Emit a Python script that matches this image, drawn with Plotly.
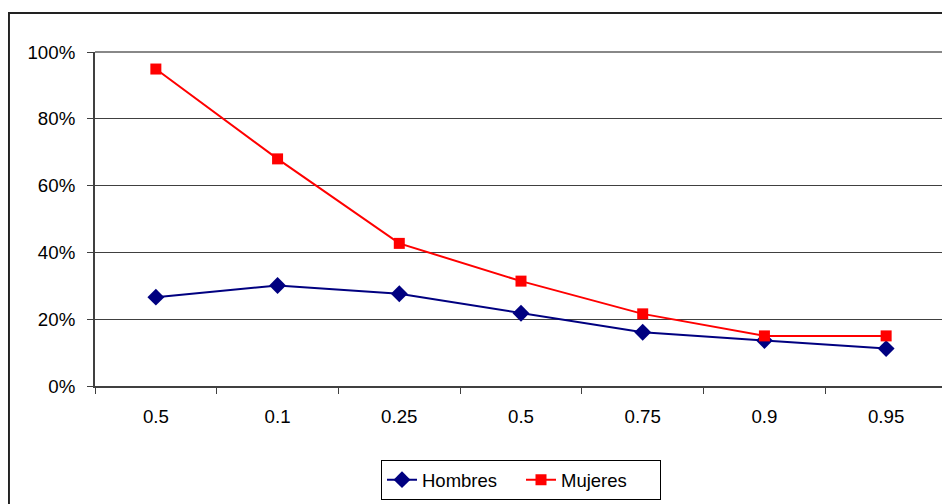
import plotly.graph_objects as go

categories = ["0.5", "0.1", "0.25", "0.5", "0.75", "0.9", "0.95"]
hombres = [0.266, 0.301, 0.276, 0.218, 0.161, 0.136, 0.112]
mujeres = [0.949, 0.680, 0.427, 0.314, 0.216, 0.150, 0.150]
y_ticks = [0, 0.2, 0.4, 0.6, 0.8, 1.0]
y_labels = ["0%", "20%", "40%", "60%", "80%", "100%"]

idx = list(range(len(categories)))
FONT = "Liberation Sans, Arial, sans-serif"

fig = go.Figure()
fig.add_trace(go.Scatter(
    x=idx, y=hombres, name="Hombres", mode="lines+markers",
    line=dict(color="#000080", width=2),
    marker=dict(symbol="diamond", size=13, color="#000080"),
))
fig.add_trace(go.Scatter(
    x=idx, y=mujeres, name="Mujeres", mode="lines+markers",
    line=dict(color="#FF0000", width=2),
    marker=dict(symbol="square", size=11, color="#FF0000"),
))

fig.update_layout(
    width=942, height=496,
    margin=dict(l=87, r=3, t=44, b=118),
    paper_bgcolor="white", plot_bgcolor="white",
    font=dict(family=FONT, size=18, color="black"),
    showlegend=True,
    legend=dict(
        orientation="h", x=0.5, xanchor="center", y=-0.222, yanchor="top",
        bordercolor="black", borderwidth=1, font=dict(size=18.5),
        entrywidth=94, entrywidthmode="pixels",
    ),
    xaxis=dict(
        type="category", tickmode="array", tickvals=idx, ticktext=categories,
        tickson="boundaries", ticks="outside", ticklen=6, tickcolor="#404040",
        showline=True, linecolor="#404040", linewidth=2,
        showgrid=False, zeroline=False, range=[-0.5, 6.5],
        tickfont=dict(size=18.7), ticklabelstandoff=13,
    ),
    yaxis=dict(
        tickmode="array", tickvals=y_ticks, ticktext=y_labels, range=[0, 1.0],
        ticks="outside", ticklen=6, tickcolor="#404040",
        showline=True, linecolor="#404040", linewidth=2,
        showgrid=True, gridcolor="#404040", gridwidth=1, zeroline=False,
        tickfont=dict(size=18.7), ticklabelstandoff=8,
    ),
    shapes=[
        dict(type="line", xref="paper", yref="paper", x0=0, x1=1, y0=1, y1=1,
             line=dict(color="#888888", width=2)),
        dict(type="line", xref="paper", yref="paper", x0=1, x1=1, y0=0, y1=1,
             line=dict(color="#888888", width=2)),
        dict(type="rect", xref="paper", yref="paper", x0=-0.101, x1=1.2,
             y0=-0.6, y1=1.1168, line=dict(color="#222222", width=2),
             layer="below"),
    ],
)

fig.write_html("out.html")
